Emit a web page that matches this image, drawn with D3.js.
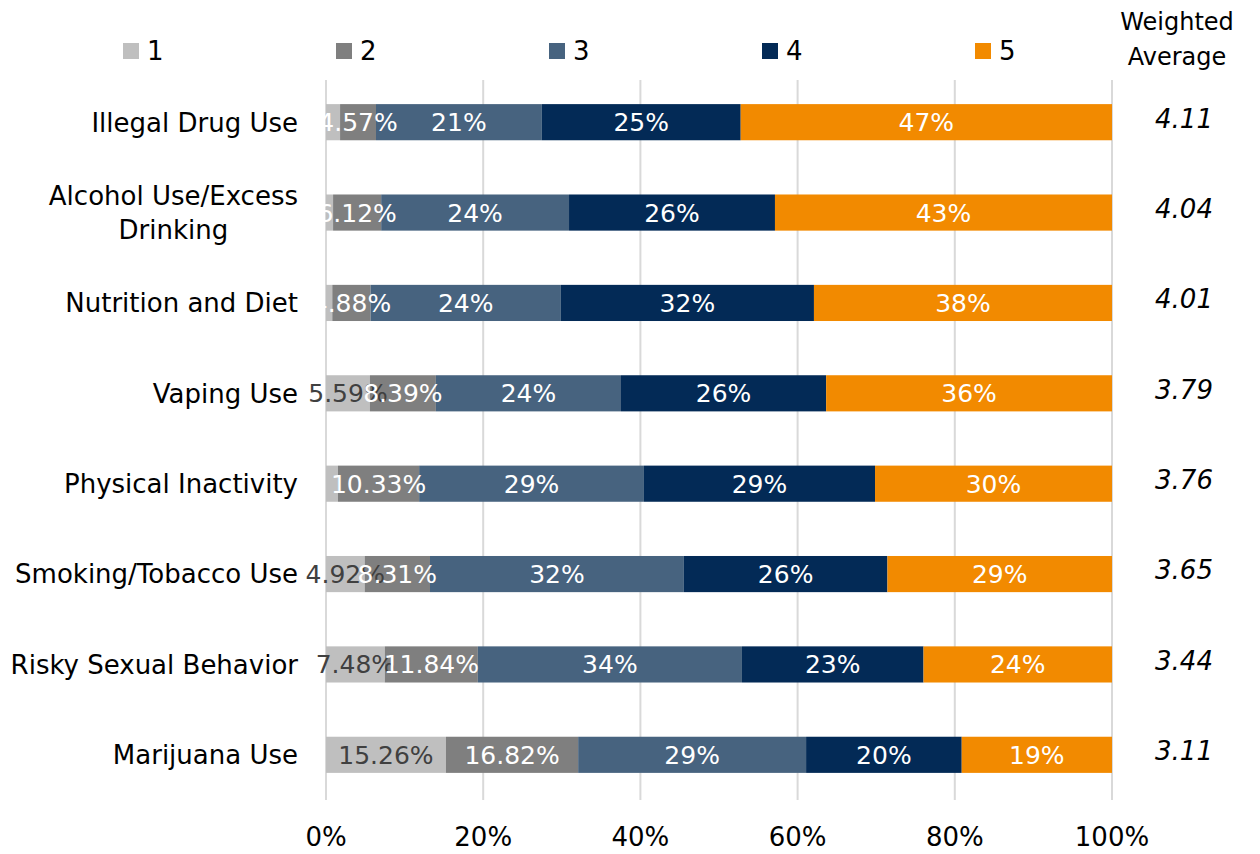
<!DOCTYPE html>
<html>
<head>
<meta charset="utf-8">
<script src="https://cdn.jsdelivr.net/npm/d3@7"></script>
<style>
  body { margin: 0; background: #fff; }
  text { font-family: "DejaVu Sans", Verdana, sans-serif; }
</style>
</head>
<body>
<svg width="1260" height="854"></svg>
<script>
// data (percent of respondents per rating)
var categories = ["Illegal Drug Use", "Alcohol Use/Excess Drinking", "Nutrition and Diet", "Vaping Use",
                  "Physical Inactivity", "Smoking/Tobacco Use", "Risky Sexual Behavior", "Marijuana Use"];
var rating1 = [1.79, 0.90, 0.80, 5.59, 1.52, 4.92, 7.48, 15.26];
var rating2 = [4.57, 6.12, 4.88, 8.39, 10.33, 8.31, 11.84, 16.82];
var rating3 = [21.1, 23.9, 24.2, 23.55, 28.6, 32.3, 33.6, 29.0];
var rating4 = [25.3, 26.2, 32.2, 26.1, 29.4, 25.9, 23.1, 19.8];
var rating5 = [47.24, 42.88, 37.92, 36.37, 30.15, 28.57, 23.98, 19.12];
var weightedAvg = ["4.11", "4.04", "4.01", "3.79", "3.76", "3.65", "3.44", "3.11"];
var seriesNames = ["1", "2", "3", "4", "5"];
var xTicks = [0, 20, 40, 60, 80, 100];

var colors = ["#bfbfbf", "#7f7f7f", "#47637f", "#032a56", "#f28a00"];
var series = [rating1, rating2, rating3, rating4, rating5];

var svg = d3.select("svg");
var plotLeft = 326, plotRight = 1112, plotTop = 80, plotBottom = 800;

var x = d3.scaleLinear().domain([0, 100]).range([plotLeft, plotRight]);
var y = d3.scaleBand().domain(categories).range([77, 800]).paddingInner(0.6).paddingOuter(0.3);

// gridlines
svg.append("g")
   .selectAll("line")
   .data(xTicks)
   .enter()
   .append("line")
   .attr("x1", d => x(d)).attr("x2", d => x(d))
   .attr("y1", plotTop).attr("y2", plotBottom)
   .attr("stroke", "#d9d9d9")
   .attr("stroke-width", 2);

// tick labels
svg.append("g")
   .selectAll("text")
   .data(xTicks)
   .enter()
   .append("text")
   .attr("x", d => x(d))
   .attr("y", 846)
   .attr("text-anchor", "middle")
   .attr("font-size", "26px")
   .attr("fill", "#000")
   .text(d => d + "%");

// stacked rows
var rows = categories.map(function(c, i) {
    var start = 0;
    return series.map(function(s, k) {
        var seg = {cat: c, k: k, x0: start, x1: start + s[i], v: s[i]};
        start += s[i];
        return seg;
    });
});

var bars = svg.append("g");
rows.forEach(function(row) {
    bars.selectAll(null)
        .data(row)
        .enter()
        .append("rect")
        .attr("x", d => x(d.x0))
        .attr("width", d => x(d.x1) - x(d.x0))
        .attr("y", d => y(d.cat))
        .attr("height", y.bandwidth())
        .attr("fill", d => colors[d.k]);
});

// data labels: rating 1 only where shown in the original
var showFirst = [false, false, false, true, false, true, true, true];
var labels = svg.append("g");
rows.forEach(function(row, i) {
    labels.selectAll(null)
          .data(row.filter(d => d.k > 0 || showFirst[i]))
          .enter()
          .append("text")
          .attr("x", d => x((d.x0 + d.x1) / 2))
          .attr("y", d => y(d.cat) + y.bandwidth() / 2)
          .attr("dy", "0.36em")
          .attr("text-anchor", "middle")
          .attr("font-size", "25px")
          .attr("fill", d => d.k === 0 ? "#404040" : "#fff")
          .text(d => d.k < 2 ? d.v.toFixed(2) + "%" : Math.round(d.v) + "%");
});

// category labels (wrap the long one)
var catLabels = svg.append("g");
categories.forEach(function(c) {
    var cy = y(c) + y.bandwidth() / 2;
    if (c === "Alcohol Use/Excess Drinking") {
        var t1 = catLabels.append("text")
                          .attr("x", 298).attr("y", cy - 17).attr("dy", "0.36em")
                          .attr("text-anchor", "end").attr("font-size", "26px")
                          .text("Alcohol Use/Excess");
        var w = t1.node().getComputedTextLength();
        catLabels.append("text")
                 .attr("x", 298 - w / 2).attr("y", cy + 17).attr("dy", "0.36em")
                 .attr("text-anchor", "middle").attr("font-size", "26px")
                 .text("Drinking");
    } else {
        catLabels.append("text")
                 .attr("x", 298).attr("y", cy).attr("dy", "0.36em")
                 .attr("text-anchor", "end").attr("font-size", "26px")
                 .text(c);
    }
});

// weighted average column
svg.append("g")
   .selectAll("text")
   .data(categories)
   .enter()
   .append("text")
   .attr("x", 1184)
   .attr("y", d => y(d) + y.bandwidth() / 2 - 4)
   .attr("dy", "0.36em")
   .attr("text-anchor", "middle")
   .attr("font-size", "26px")
   .attr("font-style", "italic")
   .text((d, i) => weightedAvg[i]);

svg.append("text").attr("x", 1177).attr("y", 30).attr("text-anchor", "middle")
   .attr("font-size", "24px").text("Weighted");
svg.append("text").attr("x", 1177).attr("y", 65).attr("text-anchor", "middle")
   .attr("font-size", "24px").text("Average");

// legend
var legend = svg.append("g")
                .selectAll("g")
                .data(seriesNames)
                .enter()
                .append("g")
                .attr("transform", (d, i) => "translate(" + (123 + i * 213) + ",43)");
legend.append("rect").attr("width", 16).attr("height", 16).attr("fill", (d, i) => colors[i]);
legend.append("text").attr("x", 24).attr("y", 8).attr("dy", "0.36em")
      .attr("font-size", "26px").text(d => d);
</script>
</body>
</html>
